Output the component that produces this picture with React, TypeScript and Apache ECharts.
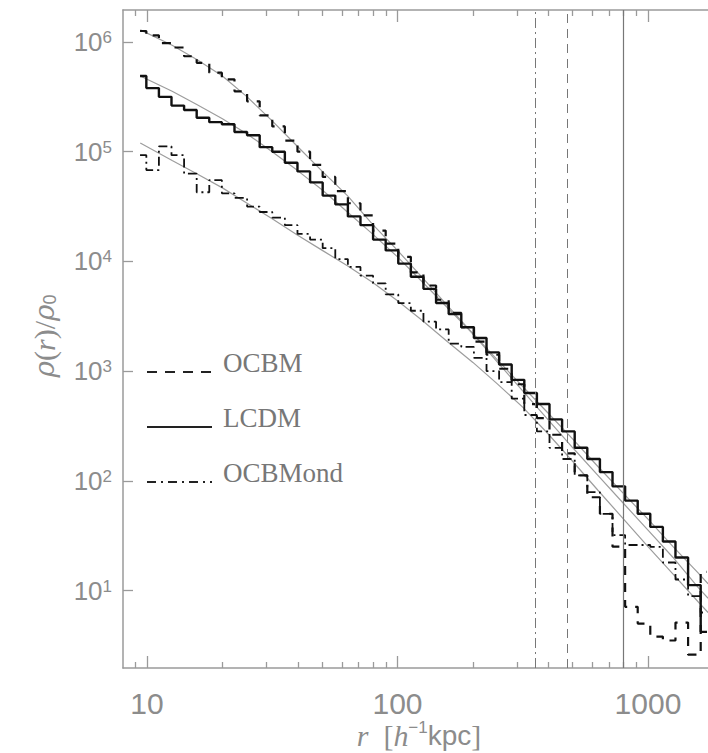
import React, { useEffect, useRef } from "react";
import * as echarts from "echarts";

// ---- data ----
const binRadii = [9.38, 10.53, 11.82, 13.27, 14.9, 16.73, 18.78, 21.09, 23.68, 26.59, 29.85, 33.51, 37.63, 42.25, 47.44, 53.27, 59.81, 67.15, 75.4, 84.66, 95.06, 106.7, 119.8, 134.5, 151.1, 169.6, 190.5, 213.9, 240.2, 269.6, 302.7, 339.9, 381.6, 428.5, 481.1, 540.2, 606.6, 681.1, 764.7, 858.6, 964, 1082, 1215, 1364, 1532, 1720];

const lcdmHist = [490000, 380000, 316000, 263000, 240000, 204000, 186000, 178000, 151000, 141000, 110000, 100000, 79400, 66100, 52500, 39800, 33100, 25700, 21400, 15800, 12600, 9550, 7240, 5620, 4170, 3310, 2510, 2000, 1480, 1150, 832, 631, 501, 363, 282, 200, 158, 120, 89, 66, 50, 38, 28, 20, 11.2, 4.2];

const ocbmHist = [1260000, 1150000, 977000, 891000, 741000, 646000, 525000, 457000, 355000, 288000, 214000, 170000, 126000, 100000, 75900, 58900, 43700, 33900, 26300, 19100, 14500, 11000, 7940, 6030, 4470, 3390, 2510, 1860, 1410, 1050, 759, 501, 372, 263, 178, 112, 70.8, 50.1, 25.1, 7.1, 5.0, 3.8, 3.5, 5.1, 2.6, 14.8];

const ocbmondHist = [93000, 68000, 112000, 93000, 63000, 42700, 55000, 41700, 38000, 31600, 28200, 25100, 21400, 17800, 15800, 13200, 10500, 8910, 7410, 6310, 5010, 4170, 3550, 2820, 2400, 1780, 1660, 1320, 1000, 794, 562, 398, 282, 200, 158, 112, 79, 50, 32, 26, 26, 25, 18, 12.6, 8.9, 6.3];

const fitRadii = [9.4, 12.6, 15.8, 20, 25.1, 31.6, 39.8, 50.1, 63.1, 79.4, 100, 126, 158, 200, 251, 316, 398, 501, 631, 794, 1000, 1259, 1585, 1738];
const lcdmFit = [490000, 355000, 269000, 200000, 145000, 100000, 67600, 44700, 28200, 17800, 11000, 6460, 3800, 2190, 1260, 724, 417, 240, 135, 77.6, 44.7, 25.1, 14.5, 11.5];
const ocbmFit = [1290000, 933000, 692000, 490000, 316000, 191000, 112000, 66100, 39800, 21900, 12600, 7080, 3980, 2190, 1200, 661, 363, 200, 112, 63.1, 35.5, 20.0, 10.7, 8.5];
const ocbmondFit = [120000, 83000, 63000, 46800, 33900, 24500, 17400, 12600, 9120, 6460, 4370, 2880, 1860, 1200, 760, 470, 270, 150, 82, 45.5, 25.1, 14.1, 7.9, 6.3];

const virialRadii = [354, 475, 795]; // OCBMond, OCBM, LCDM
const xMajorTicks = [10, 100, 1000];
const xMinorTicks = [8, 9, 20, 30, 40, 50, 60, 70, 80, 90, 200, 300, 400, 500, 600, 700, 800, 900];
const yTicks = [10, 100, 1000, 10000, 100000, 1000000];
const legendNames = ["OCBM", "LCDM", "OCBMond"];

const X_MIN = 8.02;
const X_MAX = 1736;
const Y_MIN = 1.966;
const Y_MAX = 1957000;

const AXIS_GRAY = "#9a9a9a";
const TEXT_GRAY = "#8c8c8c";

function pairs(xs: number[], ys: number[]) {
  return ys.map((y, i) => [xs[i], y]);
}

export default function App() {
  const ref = useRef<HTMLDivElement>(null);
  useEffect(() => {
    if (!ref.current) return;
    const chart = echarts.init(ref.current, null, { renderer: "svg" });

    const baseX = {
      type: "log",
      logBase: 10,
      min: X_MIN,
      max: X_MAX,
      splitLine: { show: false },
      axisLine: { show: false },
      axisLabel: { show: false },
    };

    const tickStyle = { color: AXIS_GRAY, width: 1.3 };
    const fitStyle = { color: "#9d9d9d", width: 1.2 };

    chart.setOption({
      animation: false,
      backgroundColor: "#ffffff",
      grid: { left: 123, top: 10, right: 0, bottom: 85, outerBoundsMode: "none" },
      xAxis: [
        {
          ...baseX,
          position: "bottom",
          axisLine: { show: true, lineStyle: { color: AXIS_GRAY, width: 1.5 } },
          axisTick: { show: true, inside: true, length: 12, customValues: xMajorTicks, lineStyle: tickStyle },
          axisLabel: {
            show: true,
            customValues: xMajorTicks,
            margin: 20,
            fontSize: 30,
            lineHeight: 30,
            fontFamily: "Liberation Sans",
            color: TEXT_GRAY,
            formatter: (v: number) => String(Math.round(v)),
          },
        },
        {
          ...baseX,
          position: "bottom",
          axisTick: { show: true, inside: true, length: 6, customValues: xMinorTicks, lineStyle: tickStyle },
        },
        {
          ...baseX,
          position: "top",
          axisLine: { show: true, lineStyle: { color: AXIS_GRAY, width: 1.5 } },
          axisTick: { show: true, inside: true, length: 12, customValues: xMajorTicks, lineStyle: tickStyle },
        },
        {
          ...baseX,
          position: "top",
          axisTick: { show: true, inside: true, length: 6, customValues: xMinorTicks, lineStyle: tickStyle },
        },
      ],
      yAxis: [
        {
          type: "log",
          logBase: 10,
          min: Y_MIN,
          max: Y_MAX,
          position: "left",
          splitLine: { show: false },
          axisLine: { show: true, lineStyle: { color: AXIS_GRAY, width: 1.5 } },
          axisTick: { show: true, inside: true, length: 10, customValues: yTicks, lineStyle: tickStyle },
          axisLabel: {
            show: true,
            customValues: yTicks,
            margin: 11,
            formatter: (v: number) => `{b|10}{s|${Math.round(Math.log10(v))}}`,
            rich: {
              b: { fontSize: 26, fontFamily: "Liberation Sans", color: TEXT_GRAY },
              s: { fontSize: 17, fontFamily: "Liberation Sans", color: TEXT_GRAY, verticalAlign: "top" },
            },
          },
        },
      ],
      series: [
        { name: "LCDM fit", type: "line", symbol: "none", data: pairs(fitRadii, lcdmFit), lineStyle: fitStyle, z: 2 },
        { name: "OCBM fit", type: "line", symbol: "none", data: pairs(fitRadii, ocbmFit), lineStyle: fitStyle, z: 2 },
        { name: "OCBMond fit", type: "line", symbol: "none", data: pairs(fitRadii, ocbmondFit), lineStyle: fitStyle, z: 2 },
        {
          name: "OCBM",
          type: "line",
          step: "middle",
          symbol: "none",
          data: pairs(binRadii, ocbmHist),
          lineStyle: { color: "#111", width: 2.2, type: [9, 8] },
          z: 3,
        },
        {
          name: "LCDM",
          type: "line",
          step: "middle",
          symbol: "none",
          data: pairs(binRadii, lcdmHist),
          lineStyle: { color: "#111", width: 2.4 },
          z: 4,
        },
        {
          name: "OCBMond",
          type: "line",
          step: "middle",
          symbol: "none",
          data: pairs(binRadii, ocbmondHist),
          lineStyle: { color: "#111", width: 1.8, type: [9, 4, 2, 4] },
          z: 3,
        },
        {
          name: "virial",
          type: "line",
          data: [],
          markLine: {
            silent: true,
            symbol: "none",
            label: { show: false },
            data: [
              { xAxis: virialRadii[0], lineStyle: { color: "#777", width: 1, type: [10, 4, 2, 4] } },
              { xAxis: virialRadii[1], lineStyle: { color: "#777", width: 1, type: [9, 6] } },
              { xAxis: virialRadii[2], lineStyle: { color: "#777", width: 1.2, type: "solid" } },
            ],
          },
        },
      ],
      graphic: [
        // legend
        { type: "line", shape: { x1: 147, y1: 372, x2: 212, y2: 372 }, style: { stroke: "#222", lineWidth: 2, lineDash: [10, 8] } },
        { type: "line", shape: { x1: 147, y1: 427, x2: 212, y2: 427 }, style: { stroke: "#222", lineWidth: 2.2 } },
        { type: "line", shape: { x1: 147, y1: 482, x2: 212, y2: 482 }, style: { stroke: "#222", lineWidth: 2, lineDash: [9, 5, 2, 5] } },
        { type: "text", x: 223, y: 363, style: { text: legendNames[0], font: "27px 'Liberation Serif'", fill: "#777", verticalAlign: "middle" } },
        { type: "text", x: 223, y: 418, style: { text: legendNames[1], font: "27px 'Liberation Serif'", fill: "#777", verticalAlign: "middle" } },
        { type: "text", x: 223, y: 473, style: { text: legendNames[2], font: "27px 'Liberation Serif'", fill: "#777", verticalAlign: "middle" } },
        // x axis title
        {
          type: "text",
          x: 419,
          y: 735,
          style: {
            text: "{i|r}{n|  [}{i|h}{sup|−1}{s|kpc}{n|]}",
            align: "center",
            verticalAlign: "middle",
            rich: {
              i: { fontFamily: "Liberation Serif", fontStyle: "italic", fontSize: 30, lineHeight: 32, fill: TEXT_GRAY },
              n: { fontFamily: "Liberation Serif", fontSize: 30, lineHeight: 32, fill: TEXT_GRAY },
              sup: { fontFamily: "Liberation Sans", fontSize: 17, lineHeight: 32, fill: TEXT_GRAY, verticalAlign: "top" },
              s: { fontFamily: "Liberation Sans", fontSize: 28, lineHeight: 32, fill: TEXT_GRAY },
            },
          },
        },
        // y axis title
        {
          type: "text",
          x: 44,
          y: 336,
          rotation: Math.PI / 2,
          style: {
            text: "{g|ρ}{n|(}{i|r}{n|)/}{g|ρ}{sub|0}",
            align: "center",
            verticalAlign: "middle",
            rich: {
              g: { fontFamily: "DejaVu Serif", fontStyle: "italic", fontSize: 28, fill: TEXT_GRAY },
              i: { fontFamily: "Liberation Serif", fontStyle: "italic", fontSize: 30, fill: TEXT_GRAY },
              n: { fontFamily: "Liberation Serif", fontSize: 30, fill: TEXT_GRAY },
              sub: { fontFamily: "Liberation Sans", fontSize: 18, fill: TEXT_GRAY, verticalAlign: "bottom" },
            },
          },
        },
      ],
    });
    return () => chart.dispose();
  }, []);

  return (
    <div
      ref={ref}
      style={{ position: "absolute", left: 0, top: 0, width: 708, height: 753, background: "#fff" }}
    />
  );
}
